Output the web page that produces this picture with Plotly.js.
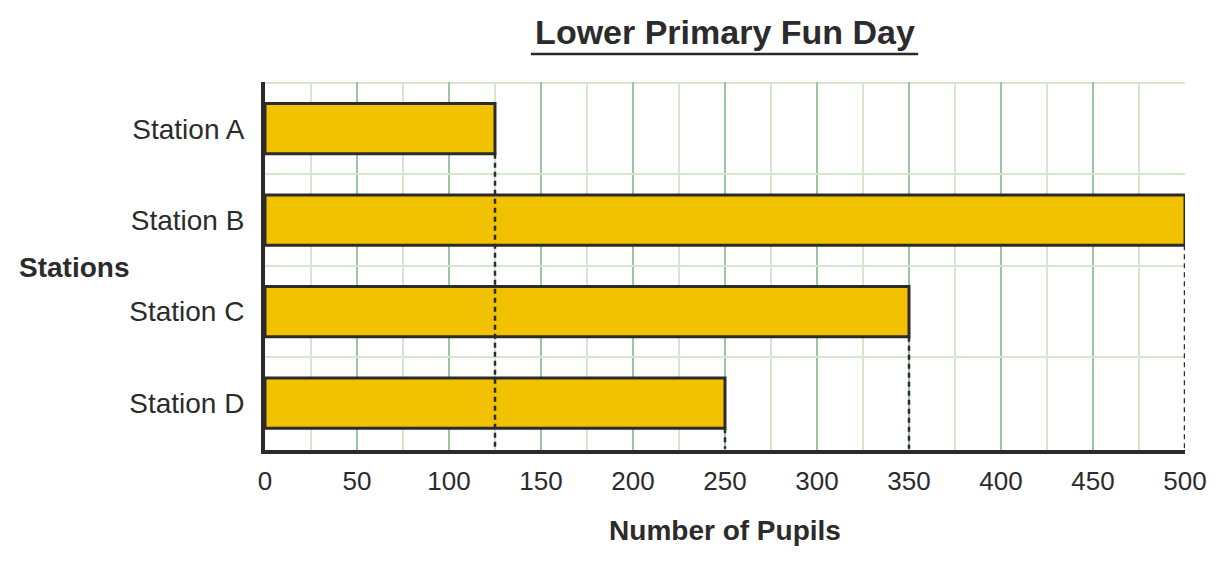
<!DOCTYPE html>
<html>
<head>
<meta charset="utf-8">
<script src="https://cdn.plot.ly/plotly-3.0.1.min.js"></script>
<style>
  body { margin: 0; background: #fff; }
  #chart { width: 1224px; height: 563px; }
</style>
</head>
<body>
<div id="chart"></div>
<script>
var stations = ['Station A', 'Station B', 'Station C', 'Station D'];
var pupils = [125, 500, 350, 250];
var xTicks = [0, 50, 100, 150, 200, 250, 300, 350, 400, 450, 500];

var ink = '#2b2b2b';
var lightGrid = '#d5e8cd';
var barWidth = 0.55;

var trace = {
  type: 'bar',
  orientation: 'h',
  y: stations,
  x: pupils,
  width: barWidth,
  marker: { color: '#f2c200', line: { color: ink, width: 3 } },
  hoverinfo: 'none'
};

var shapes = [];
// top border of the grid (plotly skips the gridline on the range edge)
shapes.push({
  type: 'line', xref: 'paper', yref: 'y',
  x0: 0, x1: 1, y0: -0.5, y1: -0.5,
  line: { color: lightGrid, width: 2 },
  layer: 'below'
});
// dashed drop lines from the end of each bar down to the x axis
for (var i = 0; i < pupils.length; i++) {
  shapes.push({
    type: 'line', xref: 'x', yref: 'y',
    x0: pupils[i], x1: pupils[i],
    y0: i + barWidth / 2, y1: stations.length - 0.5,
    line: { color: ink, width: 2.5, dash: '5px,4px' },
    layer: 'above'
  });
}
// underline under the title
shapes.push({
  type: 'line', xref: 'paper', yref: 'paper',
  x0: 0.289, x1: 0.71, y0: 1.076, y1: 1.076,
  line: { color: ink, width: 2.5 }
});

var layout = {
  width: 1224,
  height: 563,
  margin: { l: 265, r: 39, t: 82, b: 113 },
  paper_bgcolor: '#fff',
  plot_bgcolor: '#fff',
  font: { family: '"Liberation Sans", Arial, sans-serif', color: ink, size: 26 },
  showlegend: false,
  bargap: 0,
  title: {
    text: 'Lower Primary Fun Day',
    font: { size: 34, weight: 'bold', color: ink },
    x: 0.5, xref: 'paper', xanchor: 'center',
    y: 1 - 32 / 563, yref: 'container', yanchor: 'middle'
  },
  xaxis: {
    range: [0, 500],
    tickvals: xTicks,
    showgrid: true,
    gridcolor: '#9dc59f',
    gridwidth: 2,
    minor: { dtick: 25, showgrid: true, gridcolor: lightGrid, gridwidth: 2 },
    zeroline: false,
    showline: true,
    linecolor: ink,
    linewidth: 4,
    ticks: '',
    ticklabelstandoff: 5,
    tickfont: { size: 26 },
    title: { text: 'Number of Pupils', font: { size: 28, weight: 'bold' }, standoff: 26 },
    fixedrange: true
  },
  yaxis: {
    type: 'category',
    autorange: 'reversed',
    tickson: 'boundaries',
    showgrid: true,
    gridcolor: lightGrid,
    gridwidth: 2,
    zeroline: false,
    showline: true,
    linecolor: ink,
    linewidth: 4,
    ticks: '',
    ticklabelstandoff: 11,
    tickfont: { size: 28 },
    fixedrange: true
  },
  annotations: [{
    text: 'Stations',
    xref: 'paper', yref: 'paper',
    x: (17 - 265) / 920, y: 0.495,
    xanchor: 'left', yanchor: 'middle',
    showarrow: false,
    font: { size: 28, weight: 'bold', color: ink }
  }],
  shapes: shapes
};

Plotly.newPlot('chart', [trace], layout, { displayModeBar: false, staticPlot: true });
</script>
</body>
</html>
